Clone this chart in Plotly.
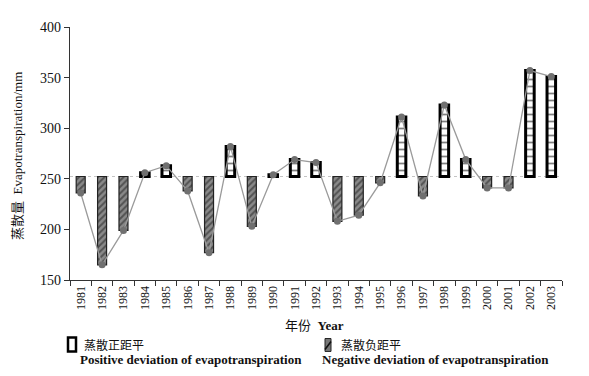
import plotly.graph_objects as go

years = [str(y) for y in range(1981, 2004)]
evap = [236, 165, 199, 256, 263, 238, 177, 282, 203, 254, 269, 266,
        208, 214, 246, 311, 233, 323, 269, 241, 241, 357, 351]
mean_val = sum(evap) / len(evap)

y_ticks = [150, 200, 250, 300, 350, 400]

pos_years = [y for y, v in zip(years, evap) if v >= mean_val]
pos_dev = [v - mean_val for v in evap if v >= mean_val]
neg_years = [y for y, v in zip(years, evap) if v < mean_val]
neg_dev = [v - mean_val for v in evap if v < mean_val]

SERIF = "Liberation Serif, Times New Roman, serif"
CJK = "Noto Sans CJK SC"

fig = go.Figure()

fig.add_trace(go.Bar(
    x=pos_years, y=pos_dev, base=mean_val, width=0.4,
    marker=dict(color="white",
                line=dict(color="black", width=3),
                pattern=dict(shape="-", fgcolor="black", bgcolor="white",
                             size=7, solidity=0.25)),
    showlegend=False, name="pos"))

fig.add_trace(go.Bar(
    x=neg_years, y=neg_dev, base=mean_val, width=0.42,
    marker=dict(color="#7a7a7a",
                line=dict(color="#222", width=1.2),
                pattern=dict(shape="/", fgcolor="#1a1a1a", bgcolor="#8a8a8a",
                             size=4.5, solidity=0.45)),
    showlegend=False, name="neg"))

fig.add_trace(go.Scatter(
    x=years, y=evap, mode="lines+markers",
    line=dict(color="#9a9a9a", width=1.3),
    marker=dict(color="#707070", size=7, symbol="circle"),
    showlegend=False))

# baseline (mean) dashed line
fig.add_shape(type="line", xref="paper", x0=0, x1=1, yref="y",
              y0=mean_val, y1=mean_val,
              line=dict(color="#c4c4c4", width=1.2, dash="dot"), layer="below")

fig.update_layout(
    width=581, height=368,
    margin=dict(l=62, r=27, t=17, b=96),
    plot_bgcolor="white", paper_bgcolor="white",
    barmode="overlay",
    font=dict(family=SERIF, color="#111", size=12),
    xaxis=dict(type="category", categoryorder="array", categoryarray=years,
               tickson="boundaries", ticks="outside",
               ticklen=5, tickcolor="#333", showline=True, linecolor="#333",
               linewidth=1.2, showgrid=False, tickangle=-90,
               tickfont=dict(family=SERIF, size=12, color="#111"),
               range=[-0.5, 22.5]),
    yaxis=dict(range=[150, 400], tickvals=y_ticks, ticks="outside",
               ticklen=5, tickcolor="#333", showline=True, linecolor="#333",
               linewidth=1.2, showgrid=False, zeroline=False,
               tickfont=dict(family=SERIF, size=14, color="#111")),
)

def px(xp):
    return (xp - 70) / 492

def py(yp):
    return (280 - yp) / 255

fig.add_annotation(text="<span style='font-family:" + CJK + "'>蒸散量</span>&nbsp; Evapotranspiration/mm",
                   xref="paper", yref="paper", x=px(17), y=py(155), textangle=-90,
                   showarrow=False, font=dict(family=SERIF, size=13, color="#111"),
                   xanchor="center", yanchor="middle")
fig.add_annotation(text="<span style='font-family:" + CJK + "'>年份</span>&nbsp; <b>Year</b>",
                   xref="paper", yref="paper", x=px(314), y=py(325),
                   showarrow=False, font=dict(family=SERIF, size=13, color="#111"),
                   xanchor="center", yanchor="middle")

# legend texts
leg_font = dict(family=SERIF, size=13, color="#111")
fig.add_annotation(text="蒸散正距平", xref="paper", yref="paper", x=px(82), y=py(345),
                   showarrow=False, font=dict(family=CJK, size=12, color="#111"),
                   xanchor="left", yanchor="middle")
fig.add_annotation(text="<b>Positive deviation of evapotranspiration</b>",
                   xref="paper", yref="paper", x=px(78), y=py(360),
                   showarrow=False, font=leg_font, xanchor="left", yanchor="middle")
fig.add_annotation(text="蒸散负距平", xref="paper", yref="paper", x=px(339), y=py(345),
                   showarrow=False, font=dict(family=CJK, size=12, color="#111"),
                   xanchor="left", yanchor="middle")
fig.add_annotation(text="<b>Negative deviation of evapotranspiration</b>",
                   xref="paper", yref="paper", x=px(320), y=py(360),
                   showarrow=False, font=leg_font, xanchor="left", yanchor="middle")

# legend symbols
fig.add_shape(type="rect", xref="paper", yref="paper",
              x0=px(68), x1=px(76), y0=py(352), y1=py(338),
              line=dict(color="black", width=2.5), fillcolor="white")
fig.add_shape(type="rect", xref="paper", yref="paper",
              x0=px(325), x1=px(331), y0=py(352), y1=py(339),
              line=dict(color="#222", width=1), fillcolor="#777")
fig.add_shape(type="line", xref="paper", yref="paper",
              x0=px(325), x1=px(331), y0=py(350), y1=py(342),
              line=dict(color="#111", width=1.5))

fig.write_html("out.html")
